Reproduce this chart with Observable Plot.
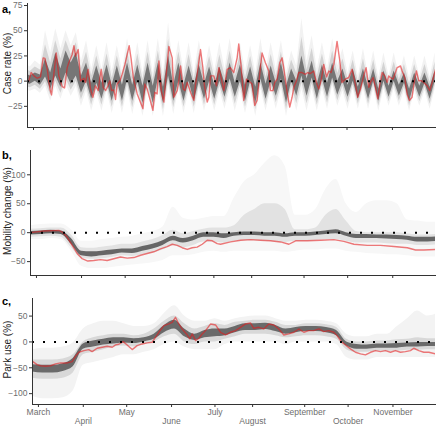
<!DOCTYPE html>
<html><head><meta charset="utf-8">
<script src="https://cdn.jsdelivr.net/npm/d3@7"></script>
<script src="https://cdn.jsdelivr.net/npm/@observablehq/plot@0.6"></script>
<style>
body{margin:0;background:#fff;font-family:"Liberation Sans",Arial,sans-serif;}
#wrap{position:relative;width:440px;height:429px;overflow:hidden;}
#wrap svg{position:absolute;left:0;}
.lab{position:absolute;left:2px;font-weight:bold;font-size:11px;line-height:11px;color:#000;}
</style></head>
<body><div id="wrap"></div>
<script>
// ---------- x axis (days since 1 March) ----------
const xDomain = [-4.1, 274.4];
const monthTicks = [0, 31, 61, 92, 122, 148, 184, 214, 245];
const monthNames = ["March","April","May","June","July","August","September","October","November"];

// ---------- panel a: case rate ----------
const caseTicks = [-25, 0, 25, 50, 75];
const caseDays = [-3.2,-1.6,0.3,2.5,4.8,6.6,7.8,9.4,11.2,12.3,
15.5,17.3,19.6,21.2,23.0,24.1,26.4,27.6,28.7,30.5,
32.1,34.4,35.5,37.3,38.9,40.5,42.3,44.2,45.3,46.2,
47.6,49.2,50.8,52.1,53.3,54.9,56.0,57.1,59.0,60.5,
62.4,65.3,66.7,68.1,70.8,74.7,76.0,77.6,81.5,82.8,
84.4,85.6,87.2,89.0,90.1,92.4,94.7,95.8,98.1,99.2,
100.4,102.2,103.3,104.9,107.2,109.5,110.6,111.7,114.0,115.6,
116.7,118.6,119.7,120.8,123.1,124.9,126.5,
127.6,129.9,132.2,134.4,136.7,139.0,140.1,141.7,143.5,145.3,
146.9,149.2,151.0,152.6,154.4,156.0,158.3,160.6,161.7,163.5,
164.7,166.3,168.1,169.7,170.8,173.1,174.9,176.5,177.7,179.5,
181.1,183.3,185.6,187.2,189.0,191.3,193.1,194.7,196.3,198.1,
200.0,201.6,203.1,205.0,207.2,209.1,210.6,212.9,215.2,217.5,
219.7,221.3,223.2,225.4,227.0,228.9,230.0,231.8,233.4,235.0,
236.4,238.0,239.8,241.4,242.5,243.6,245.5,247.1,248.2,250.5,
251.6,253.4,255.0,256.6,258.4,260.0,261.4,263.0,264.8,266.4,
268.7,270.5,272.1,274.4];
const caseRed = [0.3,8.5,5.2,2.9,4.2,23.1,22.5,11.7,-7.8,-13.7,
28.0,5.2,-5.5,-6.8,13.4,18.2,26.4,35.2,24.8,31.3,
0.3,2.9,-1.3,11.7,-7.8,-16,-4.6,-9.4,3.6,11.7,
-6.2,-9.4,-4.6,0.3,-9.4,-8.8,-18.2,-2.9,0.3,6.8,
16.6,35.2,21.5,3.6,-12.7,-27.4,-2.9,-7.8,-29.0,-11.1,
-12.7,19.9,-9.4,-20.8,-1.3,34.5,23.1,-16,-9.4,0.3,
15,-7.8,-9.4,-1.3,-11.1,-19.2,-2.9,6.8,31.3,13.4,
-4.6,-20.8,-16,5.2,5.2,-4.6,13.4,
6.8,-9.4,11.7,13.4,8.5,23.1,36.8,15,-19.2,2,
0.3,-2.9,-24.1,-19.2,6.8,28,18.2,10.1,-9.4,-9.4,
-1.3,2,18.2,23.1,13.4,-11.1,-25.7,-16,-6.2,0.3,
8.5,8.5,6.8,8.5,7.5,10.1,-1.3,-7.8,0.3,16.6,
4.2,10.1,8.5,16.6,39.4,19.9,-1.3,2,3.6,11.7,
-2.9,-16,-7.8,5.2,13.4,-6.2,-1.3,3.6,-6.2,-17.6,
-2.9,8.5,5.2,-1.3,5.2,3.6,2,8.5,13.4,15,
10.1,3.6,-12.7,-19.2,-16,0.3,10.1,0.3,0.3,-1.3,
-4.6,-9.4,-1.3,11.7];
// spread of all other regions, sampled every half week
const caseGridStart = -5.8, caseGridStep = 3.5;
const caseOutLo = [-8,-10,-8,-12,-5,-20,-5,-18,-3,-15,
-5,-25,-10,-30,-12,-30,-10,-32,-10,-32,
-8,-33,-10,-35,-8,-35,-8,-35,-5,-33,
-8,-32,-10,-32,-8,-30,-10,-30,-10,-28,
-8,-30,-10,-32,-10,-35,-8,-30,-8,-28,
-8,-35,-10,-30,-8,-30,-8,-30,-8,-28,
-5,-25,-10,-28,-8,-28,-8,-28,-8,-30,
-8,-25,-8,-25,-10,-30,-10,-25,-10,-28,-8];
const caseCoreLo = [-2,-3,0,-4,4,-8,5,-6,8,-3,
5,-12,0,-18,-2,-18,0,-20,0,-20,
2,-20,0,-22,0,-22,2,-22,5,-20,
0,-20,0,-20,0,-18,0,-18,0,-16,
2,-16,0,-20,0,-22,2,-18,0,-15,
2,-22,0,-15,5,-15,3,-18,2,-16,
3,-14,0,-16,0,-18,0,-18,0,-20,
0,-16,0,-15,-2,-20,-2,-16,-2,-18,0];
const caseCoreHi = [8,5,8,6,22,8,28,12,30,18,
28,5,18,-2,15,-2,16,-4,15,-4,
18,-4,16,-5,18,-5,18,-6,25,-4,
18,-4,15,-4,16,-3,14,-4,14,-2,
18,-2,16,-4,14,-6,18,-3,15,-2,
18,-5,12,0,25,2,20,-3,16,-2,
18,0,12,-4,12,-6,12,-6,12,-8,
10,-5,10,-4,8,-8,8,-5,8,-6,10];
const caseOutHi = [18,14,20,16,50,28,52,32,50,35,
48,20,40,12,35,12,38,10,35,10,
42,10,38,8,40,8,42,8,58,10,
40,10,38,8,40,10,35,10,38,12,
42,12,38,10,35,8,42,10,38,12,
40,8,30,15,62,20,45,12,38,12,
42,15,32,8,30,5,32,5,30,4,
28,5,28,6,25,3,25,5,25,4,28];

// ---------- panel b: mobility change ----------
const mobTicks = [-50, 0, 50, 100];
const mobDays = [-4.6,5.0,15.4,17.7,21.1,24.6,28.0,31.4,35.3,39.4,
44.0,48.6,53.2,57.8,62.4,67.0,71.6,76.1,80.7,85.3,
89.9,93.4,96.8,100.2,103.7,107.1,110.5,114.0,117.4,120.9,124.3,
126.6,133.5,140.4,147.2,154.1,161.0,167.9,173.6,178.2,186.2,
195.4,204.5,211.4,218.3,227.5,236.6,245.8,255.0,260.7,266.4,274.5];
const mobRed = [0,3,4,1,-7.5,-22,-36,-45,-49,-48,
-46.5,-48,-45,-42,-44,-43,-39,-36,-33,-28,
-24,-20,-22,-26,-29,-26,-25,-20,-13,-14,-19,
-20,-16,-13,-12,-13,-14,-16,-20,-14,-14,
-13,-12,-15,-20,-22,-22,-24,-26,-30,-30,-29];
const weekGridStart = -4, weekGridStep = 7;
const mobOutLo = [-12,-12,-10,-12,-32,-58,-62,-62,-60,-58,-56,-54,-52,-48,-40,-40,-38,-34,-32,-34,-32,-32,-32,-32,-32,-34,-32,-30,-30,-28,-28,-32,-34,-36,-37,-38,-38,-40,-42,-42,-42];
const mobMidLo = [-8,-7,-6,-8,-26,-44,-46,-45,-43,-40,-41,-38,-35,-30,-22,-26,-22,-16,-16,-18,-15,-14,-14,-15,-16,-17,-15,-15,-14,-12,-12,-15,-18,-18,-18,-19,-20,-20,-22,-22,-21];
const mobCoreLo = [-4,-3,-2,-3,-20,-40,-42,-40,-38,-35,-36,-32,-28,-22,-14,-18,-14,-8,-8,-10,-6,-5,-5,-6,-6,-8,-6,-6,-5,-3,-2,-6,-10,-10,-10,-11,-12,-13,-16,-16,-15];
const mobCoreHi = [2,3,4,3,-10,-32,-33,-32,-30,-28,-28,-24,-20,-14,-6,-10,-6,0,0,-2,0,1,1,0,0,-2,0,0,1,3,5,0,-3,-3,-4,-4,-5,-6,-8,-8,-7];
const mobMidHi = [6,7,8,8,-4,-26,-27,-25,-23,-20,-20,-16,-12,-5,4,-2,2,6,8,8,12,30,40,50,50,40,5,5,8,30,40,20,2,0,0,0,0,-2,-4,-4,-3];
const mobOutHi = [12,14,15,15,5,-15,-15,-12,-10,-8,-6,-2,2,10,44,25,22,25,28,28,60,88,100,120,133,115,30,30,40,75,92,50,35,50,55,55,50,22,20,18,18];

// ---------- panel c: park use ----------
const parkTicks = [-100, -50, 0, 50];
const parkDays = [-3.9,-0.9,1.4,4.9,8.4,11.8,15.3,19.9,23.3,25.6,
27.9,31.4,34.8,37.1,40.6,44.1,47.5,51.0,53.3,55.6,
58.6,61.3,64.8,68.2,71.7,75.2,78.6,80.9,83.2,86.7,
90.1,92.4,94.7,97.0,99.3,102.3,104.6,106.3,108.6,110.9,
113.2,115.5,119.0,122.4,
125.8,129.3,132.7,136.2,139.6,143.1,146.5,148.8,152.3,155.7,
159.2,162.7,166.1,169.6,173.0,176.5,179.9,183.4,186.8,190.3,
193.8,197.2,200.7,204.1,206.4,209.2,212.2,215.6,219.1,222.6,
226.0,229.5,232.9,236.4,239.8,243.3,246.7,250.2,253.6,257.1,
259.4,262.9,266.3,269.8,274.4];
const parkRed = [-38,-44,-46,-47,-46,-42.5,-40.6,-40.6,-38,-27.7,
-20,-16.7,-14.8,-18.7,-12.2,-10.3,-8.4,-10.3,-5.8,-4.5,
0.6,-5.8,-14.8,-7.1,-3.9,-1.9,-0.6,9,18.7,31.6,
34.8,38,47.7,34.8,25.1,15.5,5.8,15.5,2.6,7.1,
15.5,21.9,34.8,32.8,
18.7,13.5,18.7,21.9,28.3,34.8,36.7,26.4,28.3,25.1,
34.8,32.8,25.1,13.5,15.5,18.7,25.1,18.7,21.9,21.9,
25.1,20,21.9,18.7,12.2,0.6,-5.8,-13.5,-20,-23.2,
-25.1,-20,-16.7,-18.7,-16.7,-20,-16.7,-20,-18.7,-16.7,
-12.2,-16.7,-20,-20,-23.2];
const parkOutLo = [-105,-110,-110,-108,-95,-45,-40,-35,-30,-25,-25,-20,-15,-5,0,-10,-15,-15,-15,-5,0,0,0,0,0,-5,0,0,0,0,-5,-30,-35,-35,-30,-30,-30,-30,-30,-30,-30];
const parkMidLo = [-70,-72,-72,-70,-60,-25,-20,-15,-10,-8,-10,-5,0,10,15,0,-5,0,0,5,10,15,15,15,12,8,10,12,12,10,5,-15,-20,-20,-18,-18,-18,-16,-16,-15,-15];
const parkCoreLo = [-58,-60,-60,-57,-48,-14,-10,-6,-4,-2,-3,0,5,18,25,10,3,8,10,12,18,22,22,24,20,15,18,20,20,18,12,-8,-14,-14,-12,-12,-12,-10,-10,-9,-9];
const parkCoreHi = [-44,-45,-45,-42,-32,-4,2,5,8,8,6,8,15,32,42,25,15,22,25,25,30,35,35,36,32,25,28,30,30,28,22,0,-5,-6,-4,-4,-3,-2,-1,-1,-1];
const parkMidHi = [-35,-35,-35,-33,-25,0,8,12,15,15,12,15,25,40,50,35,25,30,35,32,38,40,42,42,38,32,32,35,35,33,28,5,0,0,2,2,4,5,8,6,6];
const parkOutHi = [-15,-12,-12,-10,-2,25,35,40,40,35,30,30,35,55,70,50,40,40,45,40,45,48,50,50,45,40,40,42,42,40,35,15,10,10,15,15,30,45,60,50,55];

// ---------- helpers ----------
const FONT = '"Liberation Sans", Arial, sans-serif';
function bands(start, step, lo3, lo2, lo1, hi1, hi2, hi3) {
  return lo1.map((_, i) => ({d: start + i * step,
    a1: lo3[i], a2: hi3[i], b1: lo2[i], b2: hi2[i], c1: lo1[i], c2: hi1[i]}));
}
function panel(o) {
  const cloud = o.cloud;
  const red = o.redDays.map((d, i) => ({d, v: o.red[i]}));
  const curve = o.curve || "linear";
  const marks = [
    Plot.areaY(cloud, {x: "d", y1: "a1", y2: "a2", fill: "#1a1a1a", fillOpacity: o.op[0], curve, clip: true}),
    Plot.areaY(cloud, {x: "d", y1: "b1", y2: "b2", fill: "#1a1a1a", fillOpacity: o.op[1], curve, clip: true}),
    Plot.areaY(cloud, {x: "d", y1: "c1", y2: "c2", fill: "#1a1a1a", fillOpacity: o.op[2], curve, clip: true}),
    Plot.line(red, {x: "d", y: "v", stroke: "#e31a1c", strokeOpacity: 0.58, strokeWidth: 1.4, clip: true}),
    Plot.ruleY([0], {stroke: "#000", strokeWidth: 2, strokeDasharray: "2,9"}),
    Plot.frame({anchor: "left", stroke: "#333"}),
    Plot.frame({anchor: "bottom", stroke: "#333"}),
    Plot.axisY(o.yTicks, {tickSize: 3, tickPadding: 2, fill: "#6e6e6e", stroke: "#333", fontSize: 8.5, label: null}),
    Plot.text([o.title], {text: d => d, frameAnchor: "left", textAnchor: "middle", lineAnchor: "middle",
      rotate: -90, dx: 7.5 - o.marginLeft, dy: -2, fontSize: 10, fill: "#222"})
  ];
  if (o.labels) {
    const row1 = monthTicks.filter((_, i) => i % 2 === 0);
    const row2 = monthTicks.filter((_, i) => i % 2 === 1);
    const fmt = d => monthNames[monthTicks.indexOf(d)];
    marks.push(Plot.axisX(row1, {tickSize: 3, tickPadding: 1, tickFormat: fmt, fill: "#6e6e6e", stroke: "#333", fontSize: 8.5, label: null}));
    marks.push(Plot.axisX(row2, {tickSize: 3, tickPadding: 10, tickFormat: fmt, fill: "#6e6e6e", stroke: "#333", fontSize: 8.5, label: null}));
  } else {
    marks.push(Plot.axisX(monthTicks, {tickSize: 3, tickFormat: () => "", stroke: "#333", label: null}));
  }
  const svg = Plot.plot({
    width: 440, height: o.height,
    marginTop: o.marginTop, marginBottom: o.marginBottom, marginLeft: o.marginLeft, marginRight: 5,
    style: {fontFamily: FONT, background: "transparent", overflow: "visible"},
    x: {domain: xDomain},
    y: {domain: o.yDomain},
    marks
  });
  svg.style.top = o.top + "px";
  return svg;
}

const wrap = document.getElementById("wrap");
wrap.appendChild(panel({
  top: 0, height: 140, marginTop: 3, marginBottom: 13, marginLeft: 27,
  yDomain: [-46, 77], yTicks: caseTicks, title: "Case rate (%)",
  cloud: bands(caseGridStart, caseGridStep, caseOutLo,
    caseOutLo.map((v, i) => (v + caseCoreLo[i]) / 2), caseCoreLo, caseCoreHi,
    caseOutHi.map((v, i) => (v + caseCoreHi[i]) / 2), caseOutHi),
  op: [0.06, 0.14, 0.5], redDays: caseDays, red: caseRed, labels: false
}));
wrap.appendChild(panel({
  top: 140, height: 145, marginTop: 10, marginBottom: 10, marginLeft: 30,
  yDomain: [-74, 142], yTicks: mobTicks, title: "Mobility change (%)",
  cloud: bands(weekGridStart, weekGridStep, mobOutLo, mobMidLo, mobCoreLo, mobCoreHi, mobMidHi, mobOutHi),
  op: [0.035, 0.09, 0.62], redDays: mobDays, red: mobRed, labels: false, curve: "monotone-x"
}));
wrap.appendChild(panel({
  top: 285, height: 144, marginTop: 13, marginBottom: 25, marginLeft: 32,
  yDomain: [-121, 84], yTicks: parkTicks, title: "Park use (%)",
  cloud: bands(weekGridStart, weekGridStep, parkOutLo, parkMidLo, parkCoreLo, parkCoreHi, parkMidHi, parkOutHi),
  op: [0.05, 0.12, 0.58], redDays: parkDays, red: parkRed, labels: true, curve: "monotone-x"
}));
[["a,", 4], ["b,", 150], ["c,", 296]].forEach(([t, y]) => {
  const s = document.createElement("div");
  s.className = "lab"; s.textContent = t; s.style.top = y + "px";
  wrap.appendChild(s);
});
</script></body></html>
